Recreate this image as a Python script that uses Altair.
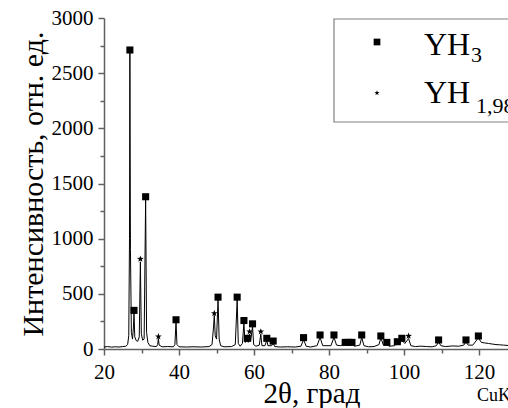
import altair as alt
import pandas as pd

# ---- data ----
two_theta = [20.0, 21.0, 22.0, 23.0, 24.0, 25.0, 25.8, 26.3, 26.6, 26.8, 26.9, 27.05, 27.3, 27.6,
             27.85, 28.0, 28.2, 28.6, 29.0, 29.4, 29.7, 29.95, 30.3, 30.7, 31.1, 31.35, 31.7,
             32.2, 33.0, 34.0, 34.3, 34.5, 34.7, 35.5, 37.0, 38.5, 38.9, 39.2, 39.45, 40.0,
             42.0, 44.0, 46.0, 48.0, 48.8, 49.2, 49.4, 49.65, 50.0, 50.4, 50.7, 51.1, 52.0,
             54.0, 55.0, 55.5, 55.8, 56.3, 56.9, 57.3, 57.6, 58.0, 58.2, 58.45, 58.8, 59.1,
             59.6, 59.9, 60.5, 61.4, 61.8, 62.1, 62.9, 63.4, 63.7, 64.7, 65.1, 65.5, 67.0,
             69.0, 71.0, 72.5, 73.2, 73.9, 75.0, 76.8, 77.6, 78.3, 80.5, 81.3, 82.0, 83.0,
             84.3, 84.75, 85.2, 85.65, 86.1, 86.8, 88.2, 88.7, 89.3, 90.5, 92.0, 93.3, 93.8,
             94.5, 95.4, 96.0, 97.5, 98.2, 98.8, 99.4, 100.2, 101.2, 101.8, 103.0, 104.5,
             106.0, 107.5, 108.6, 109.2, 109.8, 111.0, 113.0, 114.5, 115.9, 116.5, 117.1,
             118.3, 119.8, 120.6, 121.5, 122.5, 123.5, 124.5, 125.5, 126.5, 127.7]
intensity = [18, 22, 17, 20, 18, 22, 25, 40, 120, 1000, 2690, 900, 150, 90,
             200, 330, 110, 75, 70, 110, 790, 140, 80, 90, 1360, 150, 60,
             30, 25, 22, 40, 95, 35, 20, 22, 20, 40, 245, 40, 20,
             18, 20, 18, 22, 40, 200, 305, 120, 90, 445, 90, 30, 20,
             22, 40, 445, 50, 25, 50, 235, 60, 70, 80, 60, 135, 70,
             205, 40, 25, 35, 135, 30, 30, 80, 30, 30, 55, 22, 18,
             20, 18, 25, 85, 25, 18, 30, 105, 30, 30, 105, 35, 30,
             45, 35, 45, 35, 45, 25, 35, 105, 30, 20, 22, 40, 100,
             35, 45, 25, 30, 55, 45, 80, 50, 95, 30, 22, 26,
             22, 20, 30, 65, 30, 22, 28, 25, 35, 65, 35,
             35, 100, 60, 55, 50, 45, 40, 38, 35, 32]

yh3_pos = [26.9, 28.0, 31.1, 39.2, 50.4, 55.5, 57.3, 58.2, 59.6, 63.4, 65.1, 73.2, 77.6,
           81.3, 84.3, 85.2, 86.1, 88.7, 93.8, 95.4, 98.2, 99.4, 109.2, 116.5, 119.8]
yh3_int = [2710, 350, 1380, 265, 470, 470, 258, 97, 228, 97, 72, 103, 127,
           127, 60, 60, 60, 127, 118, 60, 66, 97, 82, 82, 118]

yh198_pos = [29.7, 34.5, 49.4, 58.8, 61.8, 101.2]
yh198_int = [816, 112, 323, 157, 157, 118]

x_ticks = list(range(20, 130, 10))
y_ticks = list(range(0, 3001, 250))

legend_main = ["YH", "YH"]
legend_sub = ["3", "1,98"]

FONT = "Times New Roman"
AXIS_COLOR = "#606060"
STAR = ("M0,-1 L0.235,-0.324 L0.951,-0.309 L0.380,0.124 L0.588,0.809 L0,0.4 "
        "L-0.588,0.809 L-0.380,0.124 L-0.951,-0.309 L-0.235,-0.324 Z")

spec = pd.DataFrame({"tt": two_theta, "I": intensity})
sq = pd.DataFrame({"tt": yh3_pos, "I": yh3_int})
st = pd.DataFrame({"tt": yh198_pos, "I": yh198_int})

x_enc = alt.X(
    "tt:Q",
    scale=alt.Scale(domain=[20, 127.7], nice=False, zero=False),
    axis=alt.Axis(
        orient="bottom",
        values=x_ticks,
        labelExpr="datum.value % 20 === 0 ? datum.label : ''",
        tickSize={"condition": {"test": "datum.value % 20 === 0", "value": 6}, "value": 4},
        labelPadding=6,
        labelFontSize=21, labelColor="black",
        domainColor=AXIS_COLOR, domainWidth=1.5, tickColor=AXIS_COLOR, tickWidth=1.5,
        grid=False, labelFlush=False,
        titleFontSize=29, titleFontWeight="normal", titleColor="black",
        titleX=207.5, titleY=53, titleBaseline="alphabetic", titleAlign="center",
    ),
    title="2θ, град",
)
y_enc = alt.Y(
    "I:Q",
    scale=alt.Scale(domain=[0, 3000], nice=False),
    axis=alt.Axis(
        orient="left",
        values=y_ticks,
        labelExpr="datum.value % 500 === 0 ? datum.label : ''",
        tickSize={"condition": {"test": "datum.value % 500 === 0", "value": 6}, "value": 4},
        labelPadding=5, format="d",
        labelFontSize=21, labelColor="black",
        domainColor=AXIS_COLOR, domainWidth=1.5, tickColor=AXIS_COLOR, tickWidth=1.5,
        grid=False,
        titleFontSize=30, titleFontWeight="normal", titleColor="black",
        titleX=-62, titleY=165.5, titleBaseline="alphabetic", titleAlign="center", titleAngle=270,
    ),
    title="Интенсивность, отн. ед.",
)

line = alt.Chart(spec).mark_line(color="black", strokeWidth=1).encode(x=x_enc, y=y_enc)
squares = alt.Chart(sq).mark_point(shape="square", filled=True, color="black", size=50, opacity=1).encode(x=x_enc, y=y_enc)
stars = alt.Chart(st).mark_point(shape=STAR, filled=True, color="black", size=50, opacity=1).encode(x=x_enc, y=y_enc)

one = alt.Data(values=[{"k": 1}])

leg_box = alt.Chart(one).mark_rect(fill="white", stroke="#808080", strokeWidth=1.2).encode(
    x=alt.value(230), x2=alt.value(520), y=alt.value(1), y2=alt.value(104))
leg_sq = alt.Chart(one).mark_point(shape="square", filled=True, color="black", size=45, opacity=1).encode(
    x=alt.value(273), y=alt.value(24))
leg_st = alt.Chart(one).mark_point(shape=STAR, filled=True, color="black", size=30, opacity=1).encode(
    x=alt.value(273), y=alt.value(75))
leg_t1 = alt.Chart(one).mark_text(fontSize=32, align="left", baseline="alphabetic", color="black").encode(
    x=alt.value(320), y=alt.value(37), text=alt.value(legend_main[0]))
leg_s1 = alt.Chart(one).mark_text(fontSize=22, align="left", baseline="alphabetic", color="black").encode(
    x=alt.value(367), y=alt.value(44), text=alt.value(legend_sub[0]))
leg_t2 = alt.Chart(one).mark_text(fontSize=32, align="left", baseline="alphabetic", color="black").encode(
    x=alt.value(320), y=alt.value(85), text=alt.value(legend_main[1]))
leg_s2 = alt.Chart(one).mark_text(fontSize=22, align="left", baseline="alphabetic", color="black").encode(
    x=alt.value(372), y=alt.value(95), text=alt.value(legend_sub[1]))
cu = alt.Chart(one).mark_text(fontSize=18, align="left", baseline="alphabetic", color="black").encode(
    x=alt.value(373), y=alt.value(383), text=alt.value("CuKα"))

chart = alt.layer(line, squares, stars, leg_box, leg_sq, leg_st, leg_t1, leg_s1, leg_t2, leg_s2, cu).properties(
    width=404, height=331,
    autosize=alt.AutoSizeParams(type="none"),
    padding={"left": 104, "top": 18, "right": 0, "bottom": 59},
    background="white",
).configure(font=FONT).configure_view(strokeWidth=0)

chart.save("out.html", embed_options={"renderer": "svg", "actions": False})
